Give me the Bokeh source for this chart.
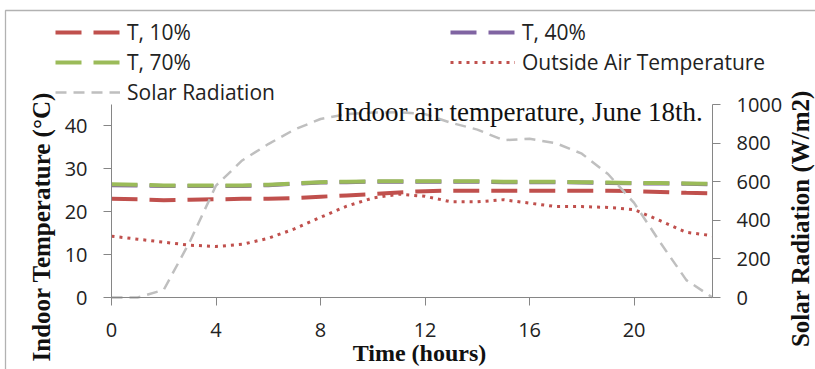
import math
from bokeh.plotting import figure
from bokeh.models import (Range1d, LinearAxis, Legend, LegendItem, Label,
                          PolyAnnotation, FixedTicker)
from bokeh.embed import file_html
from bokeh.resources import INLINE

hours = list(range(24))
t10 = [23.0, 22.9, 22.7, 22.8, 22.9, 23.0, 23.0, 23.2, 23.5, 23.8, 24.1, 24.5,
       24.8, 24.9, 24.9, 24.9, 24.9, 24.9, 24.9, 24.9, 24.8, 24.6, 24.4, 24.3]
t40 = [26.2, 26.1, 26.0, 26.0, 26.0, 26.0, 26.2, 26.5, 26.8, 26.9, 27.0, 27.0,
       27.0, 27.0, 27.0, 26.9, 26.9, 26.9, 26.8, 26.7, 26.6, 26.6, 26.5, 26.4]
t70 = [26.4, 26.3, 26.1, 26.1, 26.1, 26.1, 26.3, 26.6, 26.9, 27.0, 27.1, 27.1,
       27.1, 27.1, 27.1, 27.0, 27.0, 27.0, 26.9, 26.8, 26.7, 26.7, 26.6, 26.5]
outside = [14.3, 13.6, 12.9, 12.2, 11.9, 12.4, 13.8, 16.0, 18.7, 21.3, 23.2, 24.1,
           23.6, 22.3, 22.3, 22.8, 22.0, 21.2, 21.2, 21.0, 20.5, 17.9, 15.2, 14.4]
solar = [0, 0, 40, 290, 580, 710, 795, 870, 925, 950, 958, 960,
         950, 905, 870, 815, 822, 800, 745, 640, 490, 285, 90, 0]

x_ticks = [0, 4, 8, 12, 16, 20]
y_ticks = [0, 10, 20, 30, 40]
solar_ticks = [0, 200, 400, 600, 800, 1000]
XMAX, YMAX, SMAX = 23, 45, 1000

W, H = 815, 369
# plot-area box in canvas pixels
PL, PR, PT, PB = 111, 712, 104, 297
sx = (PR - PL) / XMAX
sy = (PB - PT) / YMAX


def px_x(px):
    return (px - PL) / sx


def px_y(py):
    return (PB - py) / sy


p = figure(width=W, height=H, output_backend="svg", toolbar_location=None,
           x_range=Range1d(px_x(0), px_x(W)), y_range=Range1d(px_y(H), px_y(0)),
           min_border=0, min_border_left=0, min_border_right=0,
           min_border_top=0, min_border_bottom=0,
           outline_line_color=None, x_axis_location=None, y_axis_location=None)
p.extra_y_ranges = {"solar": Range1d(px_y(H) * SMAX / YMAX, px_y(0) * SMAX / YMAX)}
p.xgrid.visible = False
p.ygrid.visible = False

AX = "#868686"
TXT = "#222222"
SANS = "Open Sans"
SERIF = "Liberation Serif"


def style_axis(ax, standoff):
    ax.axis_line_color = AX
    ax.major_tick_line_color = AX
    ax.minor_tick_line_color = None
    ax.major_tick_in = 0
    ax.major_tick_out = 8
    ax.major_label_text_font = SANS
    ax.major_label_text_font_size = "20px"
    ax.major_label_text_color = TXT
    ax.major_label_standoff = standoff


xax = LinearAxis(ticker=FixedTicker(ticks=x_ticks), fixed_location=0, bounds=(0, XMAX))
yax = LinearAxis(ticker=FixedTicker(ticks=y_ticks), fixed_location=0, bounds=(0, YMAX))
rax = LinearAxis(y_range_name="solar", ticker=FixedTicker(ticks=solar_ticks),
                 fixed_location=XMAX, bounds=(0, SMAX))
style_axis(xax, 17)
style_axis(yax, 16)
style_axis(rax, 16)
p.add_layout(xax, "below")
p.add_layout(yax, "left")
p.add_layout(rax, "right")

RED, PURPLE, GREEN, GREY = "#C0504D", "#8064A2", "#9BBB59", "#BFBFBF"

r10 = p.line(hours, t10, line_color=RED, line_width=4, line_dash="26 12")
r40 = p.line(hours, t40, line_color=PURPLE, line_width=4, line_dash="26 12")
r70 = p.line(hours, t70, line_color=GREEN, line_width=4, line_dash="26 12")
rout = p.line(hours, outside, line_color=RED, line_width=3, line_dash="3 5")
rsol = p.line(hours, solar, y_range_name="solar", line_color=GREY,
              line_width=2.5, line_dash="11 7")


def leg(items, left, top):
    n = len(items)
    lg = Legend(items=items, location=(left, H - (top + 30 * n)),
                orientation="vertical",
                glyph_width=65, glyph_height=30, label_height=30, spacing=0,
                padding=0, margin=0, label_standoff=7,
                border_line_color=None, background_fill_alpha=0,
                label_text_font=SANS, label_text_font_size="21px",
                label_text_color=TXT)
    p.add_layout(lg)


leg([LegendItem(label="T, 10%", renderers=[r10]),
     LegendItem(label="T, 70%", renderers=[r70]),
     LegendItem(label="Solar Radiation", renderers=[rsol])], 55, 16.7)
leg([LegendItem(label="T, 40%", renderers=[r40]),
     LegendItem(label="Outside Air Temperature", renderers=[rout])], 450, 16.7)


def label(px, py, text, size, bold=False, angle=0.0, align="left"):
    # compensate the renderer's baseline placement (about a third of the size)
    shift = 0.34 * size
    if angle:
        px -= shift
    else:
        py -= shift
    p.add_layout(Label(x=px_x(px), y=px_y(py), text=text, angle=angle,
                       text_font=SERIF, text_font_size=f"{size}px",
                       text_font_style="bold" if bold else "normal",
                       text_color="#111111", text_align=align,
                       text_baseline="alphabetic"))


label(335, 121, "Indoor air temperature, June 18th.", 27)
label(419, 361, "Time (hours)", 24, bold=True, align="center")
label(49, 223, "Indoor  Temperature (°C)", 25, bold=True, angle=math.pi / 2, align="center")
label(808, 215, "Solar Radiation  (W/m2)", 25, bold=True, angle=math.pi / 2, align="center")

p.add_layout(PolyAnnotation(xs=[px_x(5), px_x(1000), px_x(1000), px_x(5)],
                            ys=[px_y(10), px_y(10), px_y(600), px_y(600)],
                            fill_alpha=0, line_color="#000000", line_width=1.3))

open("out.html", "w").write(file_html(p, INLINE))
